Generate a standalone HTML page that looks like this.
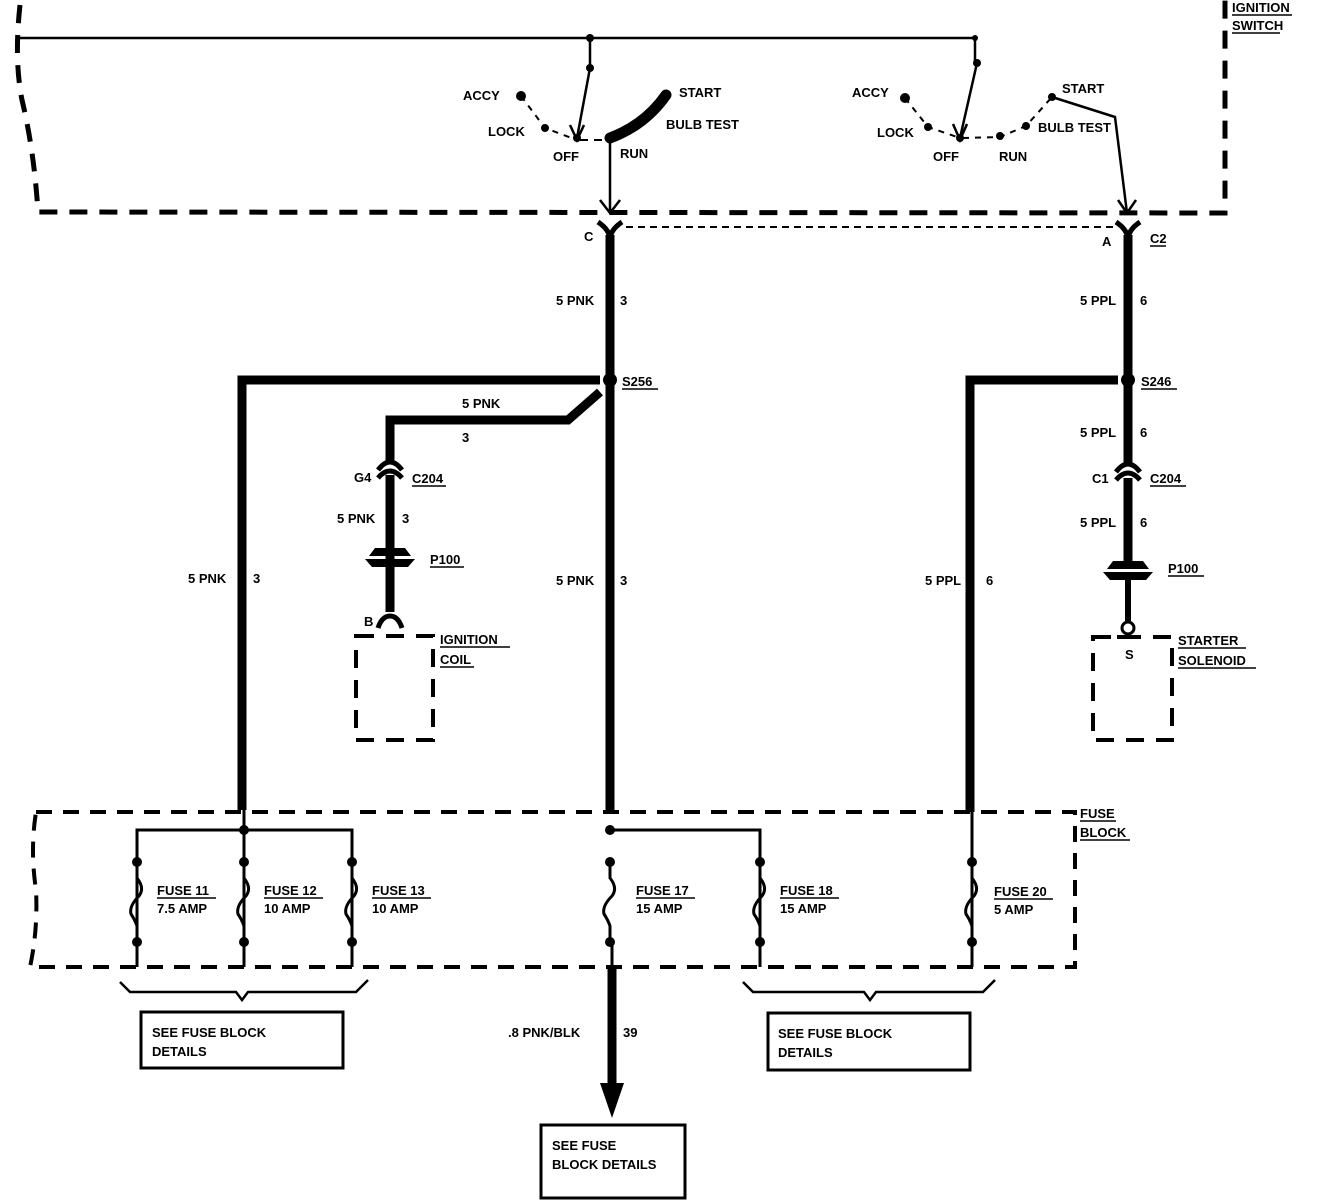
<!DOCTYPE html>
<html><head><meta charset="utf-8"><style>
html,body{margin:0;padding:0;background:#fff}
svg{display:block}
text{font-family:"Liberation Sans",sans-serif;font-weight:bold;font-size:13px;fill:#000}
</style></head><body>
<svg width="1328" height="1200" viewBox="0 0 1328 1200" xmlns="http://www.w3.org/2000/svg">
<defs>
<g id="fuse"><circle cx="0" cy="862" r="5"/><circle cx="0" cy="942" r="5"/>
<path d="M0,862 V878 Q8,888 2,896 Q-8,906 -6,914 Q-2,920 0,926 V942" fill="none" stroke="#000" stroke-width="3"/></g>
</defs>
<g fill="none" stroke="#000">
<!-- ignition switch box -->
<path d="M20,5 Q14,60 22,100 Q34,150 38,212 L1225,213 L1225,0" stroke-width="5" stroke-dasharray="18,12"/>
<path d="M20,38 H975 V63" stroke-width="2.5"/>
<path d="M590,38 V68 L577,138" stroke-width="2.5"/>
<path d="M570,125 L577,140 L584,125" stroke-width="2.5"/>
<path d="M521,96 L545,128 L577,140" stroke-width="2" stroke-dasharray="6,6"/>
<path d="M580,140 H606" stroke-width="2" stroke-dasharray="8,6"/>
<path d="M610,138 Q645,125 666,95" stroke-width="11" stroke-linecap="round"/>
<path d="M610,138 V213 M600,200 L610,213 L620,200" stroke-width="2.5"/>
<path d="M977,63 L960,138 M953,124 L960,140 L967,124" stroke-width="2.5"/>
<path d="M905,98 L928,127 L960,138 M963,138 L1000,137 L1026,126 L1052,97" stroke-width="2" stroke-dasharray="6,6"/>
<path d="M1052,97 L1115,117 L1127,213 M1118,200 L1127,213 L1136,200" stroke-width="2.5"/>
<!-- connectors top -->
<path d="M598,222 Q610,230 610,240 Q610,230 622,222" stroke-width="5"/>
<path d="M1116,222 Q1128,230 1128,240 Q1128,230 1140,222" stroke-width="5"/>
<path d="M626,227 H1115" stroke-width="2" stroke-dasharray="7,5"/>
<!-- main wires -->
<path d="M610,235 V810" stroke-width="9"/>
<path d="M600,380 H242 V810" stroke-width="9"/>
<path d="M600,392 L568,420 H390 V462" stroke-width="9"/>
<path d="M390,475 V612" stroke-width="9"/>
<path d="M1128,235 V465" stroke-width="9"/>
<path d="M1128,478 V562" stroke-width="9"/>
<path d="M1128,572 V622" stroke-width="6"/>
<path d="M1118,380 H970 V812" stroke-width="9"/>
<!-- C204 -->
<path d="M378,470 Q390,454 402,470 M378,478 Q390,464 402,478" stroke-width="5"/>
<path d="M1116,472 Q1128,456 1140,472 M1116,480 Q1128,466 1140,480" stroke-width="5"/>
<!-- B connector -->
<path d="M378,628 Q382,616 390,616 Q398,616 402,628" stroke-width="5"/>
<circle cx="1128" cy="628" r="6" stroke-width="3"/>
<!-- device boxes -->
<rect x="356" y="636" width="77" height="104" stroke-width="4" stroke-dasharray="18,12"/>
<rect x="1093" y="637" width="79" height="103" stroke-width="4" stroke-dasharray="18,12"/>
<path d="M1117,637 H1140" stroke-width="4"/>
<!-- fuse block -->
<path d="M36,812 H1075 V967 H30 Q38,930 36,890 Q30,850 36,812" stroke-width="4" stroke-dasharray="16,11"/>
<path d="M137,967 V830 H352 V967 M244,810 V967" stroke-width="3"/>
<path d="M610,830 H760 V967 M612,967 V942" stroke-width="3"/>
<path d="M972,812 V967" stroke-width="3"/>
<!-- braces -->
<path d="M120,982 L130,992 H236 L242,1000 L248,992 H356 L368,980" stroke-width="2.5"/>
<path d="M743,982 L753,992 H864 L870,1000 L876,992 H983 L995,980" stroke-width="2.5"/>
<!-- boxes -->
<rect x="141" y="1012" width="202" height="56" stroke-width="3"/>
<rect x="768" y="1013" width="202" height="57" stroke-width="3"/>
<rect x="541" y="1125" width="144" height="73" stroke-width="3"/>
<path d="M612,967 V1085" stroke-width="9"/>
</g>
<g fill="#000">
<circle cx="590" cy="38" r="4"/><circle cx="590" cy="68" r="4"/><circle cx="975" cy="38" r="3"/><circle cx="977" cy="63" r="4"/>
<circle cx="521" cy="96" r="5"/><circle cx="545" cy="128" r="4"/><circle cx="577" cy="138" r="4"/>
<circle cx="905" cy="98" r="5"/><circle cx="928" cy="127" r="4"/><circle cx="960" cy="138" r="4"/><circle cx="1000" cy="136" r="4"/><circle cx="1026" cy="126" r="4"/><circle cx="1052" cy="97" r="4"/>
<circle cx="610" cy="380" r="7"/><circle cx="1128" cy="380" r="7"/>
<circle cx="244" cy="830" r="5"/><circle cx="610" cy="830" r="5"/>
<path d="M600,1083 H624 L612,1118 Z"/>
<!-- P100 -->
<path d="M375,548 H405 L411,556 H369 Z"/><path d="M365,559 H415 L408,567 H372 Z"/>
<path d="M1113,561 H1143 L1149,569 H1107 Z"/><path d="M1103,572 H1153 L1146,580 H1110 Z"/>
</g>
<use href="#fuse" x="137"/><use href="#fuse" x="244"/><use href="#fuse" x="352"/><use href="#fuse" x="610"/><use href="#fuse" x="760"/><use href="#fuse" x="972"/>
<g>
<text x="1232" y="12">IGNITION</text><text x="1232" y="30">SWITCH</text>
<text x="463" y="100">ACCY</text><text x="488" y="136">LOCK</text><text x="553" y="161">OFF</text><text x="620" y="158">RUN</text>
<text x="679" y="97">START</text><text x="666" y="129">BULB TEST</text>
<text x="852" y="97">ACCY</text><text x="877" y="137">LOCK</text><text x="933" y="161">OFF</text><text x="999" y="161">RUN</text>
<text x="1062" y="93">START</text><text x="1038" y="132">BULB TEST</text>
<text x="584" y="241">C</text><text x="1102" y="246">A</text><text x="1150" y="243">C2</text>
<text x="556" y="305">5 PNK</text><text x="620" y="305">3</text>
<text x="1080" y="305">5 PPL</text><text x="1140" y="305">6</text>
<text x="622" y="386">S256</text><text x="1141" y="386">S246</text>
<text x="462" y="408">5 PNK</text><text x="462" y="442">3</text>
<text x="354" y="482">G4</text><text x="412" y="483">C204</text>
<text x="337" y="523">5 PNK</text><text x="402" y="523">3</text>
<text x="430" y="564">P100</text>
<text x="364" y="626">B</text>
<text x="440" y="644">IGNITION</text><text x="440" y="664">COIL</text>
<text x="188" y="583">5 PNK</text><text x="253" y="583">3</text>
<text x="556" y="585">5 PNK</text><text x="620" y="585">3</text>
<text x="925" y="585">5 PPL</text><text x="986" y="585">6</text>
<text x="1080" y="437">5 PPL</text><text x="1140" y="437">6</text>
<text x="1092" y="483">C1</text><text x="1150" y="483">C204</text>
<text x="1080" y="527">5 PPL</text><text x="1140" y="527">6</text>
<text x="1168" y="573">P100</text>
<text x="1125" y="659">S</text>
<text x="1178" y="645">STARTER</text><text x="1178" y="665">SOLENOID</text>
<text x="1080" y="818">FUSE</text><text x="1080" y="837">BLOCK</text>
<text x="157" y="895">FUSE 11</text><text x="157" y="913">7.5 AMP</text>
<text x="264" y="895">FUSE 12</text><text x="264" y="913">10 AMP</text>
<text x="372" y="895">FUSE 13</text><text x="372" y="913">10 AMP</text>
<text x="636" y="895">FUSE 17</text><text x="636" y="913">15 AMP</text>
<text x="780" y="895">FUSE 18</text><text x="780" y="913">15 AMP</text>
<text x="994" y="896">FUSE 20</text><text x="994" y="914">5 AMP</text>
<text x="152" y="1037">SEE FUSE BLOCK</text><text x="152" y="1056">DETAILS</text>
<text x="778" y="1038">SEE FUSE BLOCK</text><text x="778" y="1057">DETAILS</text>
<text x="508" y="1037">.8 PNK/BLK</text><text x="623" y="1037">39</text>
<text x="552" y="1150">SEE FUSE</text><text x="552" y="1169">BLOCK DETAILS</text>
</g>
<g stroke="#000" stroke-width="1.5">
<path d="M1232,15 H1292 M1232,33 H1280 M1150,246 H1166 M622,389 H658 M1141,389 H1177 M412,486 H446 M1150,486 H1186 M430,567 H464 M1168,576 H1204 M440,647 H510 M440,667 H474 M1178,648 H1246 M1178,668 H1256 M1080,821 H1116 M1080,840 H1130 M157,898 H216 M264,898 H323 M372,898 H431 M636,898 H695 M780,898 H839 M994,899 H1053"/>
</g>
</svg>
</body></html>
